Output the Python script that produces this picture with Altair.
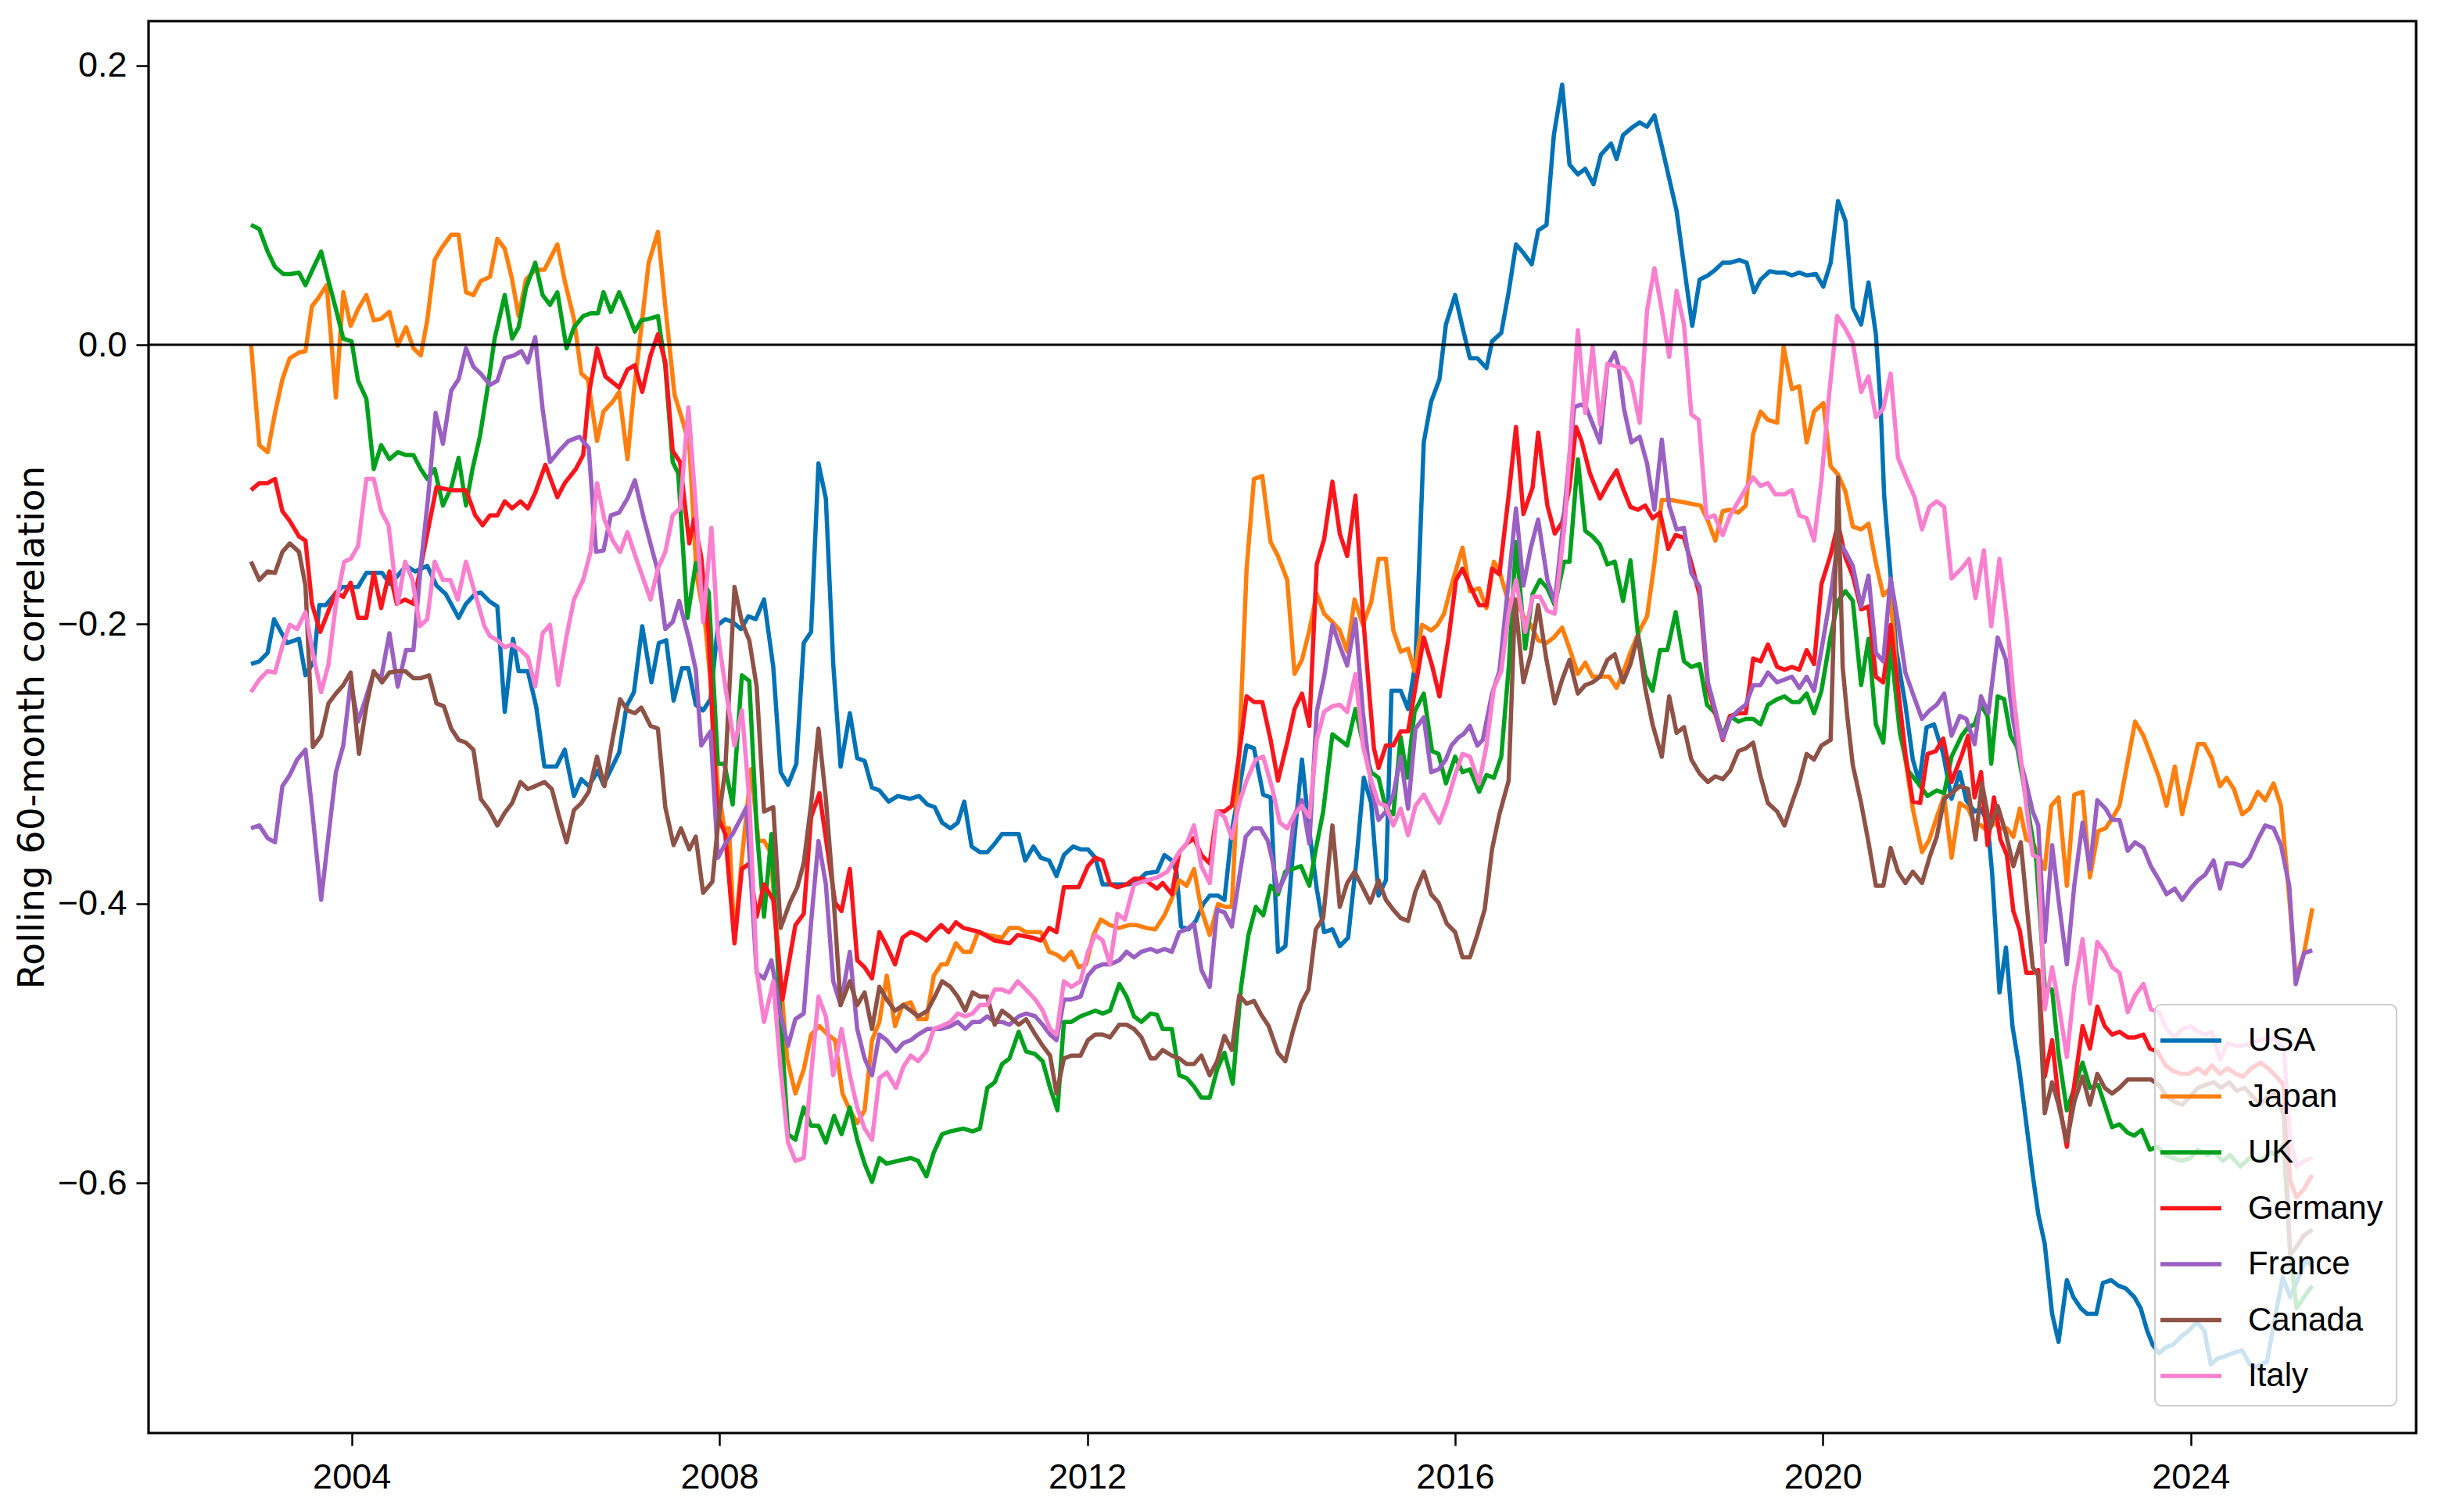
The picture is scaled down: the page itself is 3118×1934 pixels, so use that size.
import altair as alt
import pandas as pd

# ---- values (year, rolling 60-month correlation) ----
USA = [(2002.89,-0.227),(2002.98,-0.225),(2003.07,-0.219),(2003.14,-0.195),(2003.28,-0.212),(2003.41,-0.209),(2003.48,-0.235),(2003.57,-0.225),(2003.63,-0.185),(2003.70,-0.185),(2003.80,-0.177),(2003.88,-0.172),(2004.05,-0.172),(2004.14,-0.162),(2004.31,-0.162),(2004.40,-0.170),(2004.57,-0.157),(2004.67,-0.161),(2004.80,-0.157),(2004.90,-0.171),(2005.00,-0.177),(2005.14,-0.194),(2005.22,-0.184),(2005.32,-0.177),(2005.38,-0.176),(2005.47,-0.182),(2005.56,-0.186),(2005.64,-0.261),(2005.73,-0.209),(2005.79,-0.232),(2005.89,-0.232),(2005.98,-0.257),(2006.07,-0.300),(2006.20,-0.300),(2006.29,-0.288),(2006.39,-0.321),(2006.47,-0.309),(2006.55,-0.314),(2006.65,-0.303),(2006.71,-0.313),(2006.88,-0.290),(2006.96,-0.257),(2007.04,-0.247),(2007.13,-0.200),(2007.23,-0.240),(2007.31,-0.212),(2007.39,-0.210),(2007.47,-0.253),(2007.56,-0.230),(2007.63,-0.230),
       (2007.71,-0.256),(2007.79,-0.260),(2007.87,-0.252),(2007.95,-0.199),(2008.03,-0.195),(2008.11,-0.197),(2008.20,-0.202),(2008.28,-0.193),(2008.36,-0.195),(2008.45,-0.181),(2008.55,-0.229),(2008.63,-0.304),(2008.71,-0.313),(2008.80,-0.298),(2008.88,-0.212),(2008.96,-0.204),(2009.04,-0.084),(2009.12,-0.109),(2009.20,-0.227),(2009.28,-0.300),(2009.38,-0.262),(2009.46,-0.294),(2009.54,-0.296),(2009.62,-0.315),(2009.70,-0.317),(2009.80,-0.325),(2009.90,-0.321),(2010.03,-0.323),(2010.13,-0.321),(2010.22,-0.327),(2010.30,-0.329),(2010.38,-0.340),(2010.47,-0.344),(2010.55,-0.340),(2010.62,-0.325),(2010.70,-0.357),(2010.79,-0.361),(2010.87,-0.361),(2010.95,-0.355),(2011.03,-0.348),(2011.11,-0.348),(2011.21,-0.348),(2011.28,-0.367),(2011.37,-0.357),(2011.45,-0.365),(2011.54,-0.367),(2011.62,-0.378),(2011.70,-0.363),(2011.80,-0.357),(2011.88,-0.359),(2011.96,-0.359),(2012.04,-0.365),(2012.12,-0.384),(2012.20,-0.384),(2012.30,-0.384),(2012.40,-0.384),(2012.49,-0.382),(2012.59,-0.376),
       (2012.71,-0.375),(2012.79,-0.363),(2012.87,-0.367),(2012.92,-0.375),(2012.97,-0.414),(2013.05,-0.416),(2013.13,-0.410),(2013.21,-0.398),(2013.28,-0.392),(2013.37,-0.392),(2013.44,-0.395),(2013.52,-0.346),(2013.60,-0.316),(2013.68,-0.285),(2013.76,-0.287),(2013.86,-0.320),(2013.94,-0.322),(2014.02,-0.432),(2014.10,-0.428),(2014.18,-0.363),(2014.28,-0.295),(2014.36,-0.346),(2014.44,-0.387),(2014.52,-0.418),(2014.61,-0.416),(2014.69,-0.428),(2014.78,-0.422),(2014.87,-0.367),(2014.95,-0.308),(2015.03,-0.326),(2015.11,-0.392),(2015.19,-0.381),(2015.25,-0.246),(2015.35,-0.246),(2015.43,-0.259),(2015.51,-0.226),(2015.60,-0.069),(2015.68,-0.040),(2015.77,-0.024),(2015.84,0.015),(2015.94,0.036),(2016.02,0.013),(2016.10,-0.009),(2016.18,-0.009),(2016.28,-0.016),(2016.34,0.003),(2016.44,0.009),(2016.52,0.038),(2016.60,0.072),(2016.68,0.066),(2016.77,0.058),(2016.84,0.082),(2016.93,0.086),(2017.01,0.150),(2017.10,0.186),(2017.18,0.129),(2017.27,0.122),(2017.35,0.126),(2017.44,0.115),(2017.52,0.136),
       (2017.63,0.144),(2017.69,0.133),(2017.76,0.150),(2017.85,0.155),(2017.94,0.159),(2018.02,0.156),(2018.10,0.164),(2018.18,0.142),(2018.26,0.119),(2018.34,0.096),(2018.42,0.057),(2018.51,0.014),(2018.59,0.047),(2018.68,0.050),(2018.76,0.054),(2018.84,0.059),(2018.92,0.059),(2019.02,0.061),(2019.10,0.059),(2019.18,0.038),(2019.25,0.047),(2019.35,0.053),(2019.43,0.052),(2019.51,0.052),(2019.59,0.050),(2019.67,0.052),(2019.75,0.050),(2019.85,0.051),(2019.93,0.042),(2020.01,0.059),(2020.09,0.103),(2020.17,0.089),(2020.25,0.027),(2020.34,0.015),(2020.42,0.045),(2020.50,0.008),(2020.55,-0.041),(2020.59,-0.107),(2020.66,-0.164),(2020.72,-0.217),(2020.82,-0.256),(2020.90,-0.295),(2020.97,-0.311),(2021.05,-0.272),(2021.13,-0.270),(2021.23,-0.291),(2021.32,-0.323),
       (2021.41,-0.304),(2021.48,-0.324),(2021.57,-0.332),(2021.64,-0.330),(2021.71,-0.340),(2021.76,-0.376),(2021.84,-0.461),(2021.91,-0.429),(2021.98,-0.485),(2022.05,-0.513),(2022.12,-0.549),(2022.20,-0.591),(2022.26,-0.619),(2022.33,-0.640),(2022.41,-0.690),(2022.48,-0.710),(2022.57,-0.666),(2022.64,-0.678),(2022.72,-0.686),(2022.79,-0.690),(2022.89,-0.690),(2022.96,-0.668),(2023.05,-0.666),(2023.13,-0.670),(2023.21,-0.672),(2023.30,-0.678),(2023.37,-0.686),(2023.44,-0.702),(2023.50,-0.712),(2023.57,-0.718),(2023.64,-0.714),(2023.72,-0.712),(2023.81,-0.706),(2023.89,-0.702),(2023.98,-0.696),(2024.06,-0.702),(2024.13,-0.726),(2024.20,-0.722),(2024.29,-0.720),(2024.37,-0.718),(2024.47,-0.716),(2024.55,-0.726),(2024.62,-0.728),(2024.74,-0.724),(2024.81,-0.698),(2024.91,-0.664),(2024.99,-0.678),(2025.07,-0.666),(2025.16,-0.652),(2025.23,-0.656)]

JAPAN = [(2002.89,0.001),(2002.98,-0.071),(2003.07,-0.076),(2003.15,-0.048),(2003.23,-0.024),(2003.31,-0.009),(2003.41,-0.005),(2003.48,-0.004),(2003.55,0.028),(2003.62,0.034),(2003.71,0.043),(2003.81,-0.037),(2003.89,0.038),(2003.97,0.014),(2004.05,0.026),(2004.14,0.036),(2004.22,0.018),(2004.30,0.019),(2004.39,0.024),(2004.48,0.000),(2004.57,0.013),(2004.65,-0.002),(2004.73,-0.007),(2004.80,0.018),(2004.88,0.061),(2004.95,0.069),(2005.06,0.079),(2005.14,0.079),(2005.22,0.038),(2005.30,0.036),(2005.38,0.046),(2005.48,0.049),(2005.56,0.076),(2005.64,0.069),(2005.72,0.047),(2005.79,0.021),(2005.87,0.047),(2005.97,0.054),(2006.07,0.054),(2006.21,0.072),(2006.29,0.046),(2006.39,0.019),(2006.47,-0.020),(2006.54,-0.024),(2006.64,-0.068),(2006.71,-0.047),(2006.81,-0.040),(2006.88,-0.033),(2006.97,-0.081),(2007.04,-0.032),(2007.12,0.013),(2007.20,0.059),(2007.30,0.081),(2007.38,0.028),(2007.48,-0.035),(2007.56,-0.052),(2007.64,-0.071),
         (2007.72,-0.164),(2007.81,-0.197),(2007.87,-0.239),(2007.95,-0.315),(2008.02,-0.344),(2008.07,-0.344),(2008.13,-0.424),(2008.21,-0.365),(2008.31,-0.302),(2008.39,-0.353),(2008.45,-0.353),(2008.52,-0.361),(2008.60,-0.428),(2008.70,-0.508),(2008.79,-0.533),(2008.88,-0.516),(2008.96,-0.491),(2009.05,-0.485),(2009.14,-0.491),(2009.22,-0.495),(2009.30,-0.533),(2009.38,-0.545),(2009.46,-0.554),(2009.54,-0.545),(2009.62,-0.495),(2009.70,-0.482),(2009.78,-0.449),(2009.87,-0.485),(2009.95,-0.470),(2010.04,-0.468),(2010.12,-0.480),(2010.21,-0.480),(2010.29,-0.449),(2010.37,-0.441),(2010.43,-0.441),(2010.53,-0.426),(2010.61,-0.432),(2010.69,-0.432),(2010.77,-0.418),(2010.87,-0.420),(2011.03,-0.422),(2011.11,-0.415),(2011.21,-0.415),(2011.29,-0.418),(2011.45,-0.418),(2011.54,-0.432),(2011.62,-0.434),(2011.70,-0.438),(2011.78,-0.432),(2011.86,-0.443),(2011.94,-0.441),(2012.02,-0.420),(2012.10,-0.409),(2012.20,-0.413),(2012.30,-0.415),(2012.40,-0.413),(2012.49,-0.413),(2012.59,-0.415),
         (2012.69,-0.416),(2012.79,-0.406),(2012.87,-0.394),(2012.95,-0.381),(2013.03,-0.385),(2013.11,-0.373),(2013.19,-0.402),(2013.28,-0.420),(2013.37,-0.398),(2013.45,-0.400),(2013.52,-0.400),(2013.60,-0.289),(2013.68,-0.159),(2013.76,-0.095),(2013.85,-0.093),(2013.94,-0.140),(2014.02,-0.150),(2014.12,-0.167),(2014.20,-0.234),(2014.28,-0.224),(2014.36,-0.203),(2014.44,-0.177),(2014.52,-0.191),(2014.61,-0.197),(2014.69,-0.203),(2014.77,-0.218),(2014.85,-0.181),(2014.94,-0.199),(2015.03,-0.183),(2015.11,-0.152),(2015.19,-0.152),(2015.27,-0.203),(2015.35,-0.218),(2015.43,-0.216),(2015.50,-0.232),(2015.58,-0.199),(2015.68,-0.203),(2015.75,-0.199),(2015.82,-0.191),(2015.90,-0.171),(2016.02,-0.144),(2016.10,-0.175),(2016.20,-0.173),(2016.28,-0.187),(2016.36,-0.154),(2016.42,-0.161),(2016.52,-0.183),(2016.60,-0.181),(2016.68,-0.193),(2016.76,-0.199),(2016.84,-0.210),(2016.93,-0.212),(2017.01,-0.208),(2017.10,-0.201),(2017.18,-0.216),(2017.27,-0.234),(2017.35,-0.226),(2017.43,-0.236),(2017.51,-0.236),(2017.61,-0.236),
         (2017.69,-0.244),(2017.76,-0.233),(2017.85,-0.217),(2017.94,-0.203),(2018.02,-0.193),(2018.10,-0.155),(2018.18,-0.110),(2018.28,-0.110),(2018.36,-0.111),(2018.44,-0.112),(2018.52,-0.113),(2018.60,-0.114),(2018.68,-0.125),(2018.76,-0.139),(2018.84,-0.118),(2018.92,-0.117),(2019.01,-0.119),(2019.09,-0.114),(2019.17,-0.063),(2019.25,-0.047),(2019.33,-0.053),(2019.43,-0.055),(2019.50,-0.001),(2019.59,-0.031),(2019.67,-0.029),(2019.75,-0.069),(2019.83,-0.047),(2019.93,-0.041),(2020.01,-0.086),(2020.09,-0.092),(2020.17,-0.104),(2020.25,-0.129),(2020.34,-0.131),(2020.42,-0.127),(2020.50,-0.155),(2020.58,-0.178),(2020.64,-0.174),(2020.69,-0.201),(2020.76,-0.268),(2020.82,-0.295),(2020.90,-0.330),(2021.00,-0.361),(2021.08,-0.352),(2021.16,-0.336),(2021.24,-0.321),(2021.32,-0.365),
         (2021.41,-0.326),(2021.50,-0.330),(2021.57,-0.340),(2021.64,-0.342),(2021.71,-0.346),(2021.78,-0.340),(2021.85,-0.344),(2021.92,-0.344),(2021.99,-0.350),(2022.06,-0.330),(2022.13,-0.352),(2022.20,-0.354),(2022.26,-0.363),(2022.33,-0.373),(2022.40,-0.328),(2022.48,-0.322),(2022.57,-0.385),(2022.65,-0.320),(2022.74,-0.318),(2022.82,-0.379),(2022.91,-0.346),(2022.99,-0.344),(2023.07,-0.336),(2023.14,-0.328),(2023.23,-0.296),(2023.31,-0.268),(2023.40,-0.278),(2023.48,-0.292),(2023.57,-0.308),(2023.65,-0.328),(2023.74,-0.300),(2023.82,-0.334),(2023.91,-0.308),(2023.99,-0.284),(2024.06,-0.284),(2024.14,-0.294),(2024.23,-0.314),(2024.30,-0.308),(2024.38,-0.316),(2024.47,-0.334),(2024.55,-0.330),(2024.64,-0.318),(2024.72,-0.324),(2024.81,-0.312),(2024.89,-0.328),(2024.98,-0.393),(2025.05,-0.451),(2025.14,-0.433),(2025.23,-0.401)]

UK = [(2002.89,0.086),(2002.98,0.083),(2003.07,0.067),(2003.15,0.056),(2003.24,0.051),(2003.32,0.051),(2003.41,0.052),(2003.48,0.043),(2003.57,0.056),(2003.65,0.067),(2003.73,0.046),(2003.81,0.026),(2003.89,0.005),(2003.98,0.003),(2004.05,-0.025),(2004.14,-0.038),(2004.22,-0.088),(2004.30,-0.071),(2004.39,-0.081),(2004.48,-0.076),(2004.57,-0.078),(2004.65,-0.078),(2004.73,-0.088),(2004.80,-0.095),(2004.88,-0.088),(2004.97,-0.114),(2005.06,-0.101),(2005.14,-0.080),(2005.22,-0.114),(2005.29,-0.088),(2005.37,-0.065),(2005.45,-0.032),(2005.53,0.005),(2005.64,0.036),(2005.72,0.005),(2005.79,0.013),(2005.87,0.041),(2005.97,0.059),(2006.05,0.036),(2006.13,0.029),(2006.21,0.038),(2006.31,-0.002),(2006.39,0.013),(2006.49,0.021),(2006.57,0.023),(2006.65,0.023),(2006.71,0.038),(2006.79,0.024),(2006.88,0.038),(2006.97,0.024),(2007.05,0.010),(2007.12,0.018),(2007.20,0.019),(2007.30,0.021),(2007.38,-0.015),(2007.46,-0.083),(2007.52,-0.091),(2007.62,-0.194),
      (2007.71,-0.155),(2007.85,-0.176),(2007.95,-0.298),(2008.02,-0.298),(2008.11,-0.327),(2008.21,-0.235),(2008.29,-0.239),(2008.37,-0.344),(2008.45,-0.407),(2008.53,-0.348),(2008.62,-0.470),(2008.71,-0.562),(2008.79,-0.566),(2008.88,-0.543),(2008.96,-0.556),(2009.04,-0.556),(2009.12,-0.568),(2009.21,-0.549),(2009.29,-0.562),(2009.38,-0.543),(2009.46,-0.566),(2009.54,-0.583),(2009.62,-0.596),(2009.70,-0.579),(2009.78,-0.583),(2009.90,-0.581),(2010.04,-0.579),(2010.12,-0.581),(2010.21,-0.592),(2010.29,-0.575),(2010.38,-0.562),(2010.47,-0.560),(2010.61,-0.558),(2010.71,-0.560),(2010.79,-0.558),(2010.87,-0.529),(2010.95,-0.525),(2011.03,-0.512),(2011.11,-0.508),(2011.21,-0.489),(2011.29,-0.503),(2011.39,-0.505),(2011.47,-0.510),(2011.55,-0.529),(2011.63,-0.545),(2011.70,-0.482),(2011.78,-0.482),(2011.88,-0.478),(2012.04,-0.474),(2012.12,-0.476),(2012.20,-0.474),(2012.30,-0.455),(2012.38,-0.464),(2012.46,-0.478),(2012.54,-0.482),(2012.64,-0.476),
      (2012.71,-0.477),(2012.77,-0.487),(2012.87,-0.487),(2012.95,-0.520),(2013.03,-0.522),(2013.11,-0.528),(2013.19,-0.536),(2013.28,-0.536),(2013.36,-0.516),(2013.44,-0.504),(2013.53,-0.526),(2013.62,-0.457),(2013.70,-0.420),(2013.78,-0.400),(2013.86,-0.406),(2013.94,-0.385),(2014.02,-0.391),(2014.10,-0.375),(2014.18,-0.373),(2014.27,-0.371),(2014.36,-0.385),(2014.43,-0.359),(2014.51,-0.332),(2014.61,-0.277),(2014.69,-0.281),(2014.77,-0.285),(2014.86,-0.259),(2014.94,-0.283),(2015.03,-0.304),(2015.11,-0.308),(2015.19,-0.330),(2015.27,-0.334),(2015.35,-0.279),(2015.42,-0.308),(2015.50,-0.261),(2015.60,-0.248),(2015.69,-0.289),(2015.76,-0.291),(2015.84,-0.312),(2015.94,-0.293),(2016.02,-0.304),(2016.10,-0.302),(2016.20,-0.318),(2016.28,-0.306),(2016.36,-0.308),(2016.44,-0.293),(2016.52,-0.230),(2016.60,-0.140),(2016.70,-0.216),(2016.78,-0.177),(2016.86,-0.167),(2016.94,-0.173),(2017.02,-0.185),(2017.12,-0.154),(2017.18,-0.154),(2017.27,-0.081),(2017.35,-0.132),(2017.43,-0.136),(2017.51,-0.142),(2017.59,-0.156),(2017.67,-0.154),
      (2017.76,-0.182),(2017.84,-0.153),(2017.92,-0.205),(2018.00,-0.235),(2018.08,-0.246),(2018.16,-0.217),(2018.24,-0.217),(2018.33,-0.190),(2018.42,-0.225),(2018.50,-0.229),(2018.59,-0.227),(2018.67,-0.256),(2018.76,-0.262),(2018.84,-0.278),(2018.92,-0.264),(2019.01,-0.268),(2019.09,-0.266),(2019.17,-0.266),(2019.25,-0.270),(2019.33,-0.256),(2019.43,-0.252),(2019.51,-0.250),(2019.59,-0.254),(2019.67,-0.254),(2019.75,-0.248),(2019.83,-0.262),(2019.91,-0.246),(2020.01,-0.207),(2020.09,-0.182),(2020.17,-0.175),(2020.25,-0.182),(2020.34,-0.242),(2020.42,-0.209),(2020.50,-0.270),(2020.58,-0.283),(2020.66,-0.213),(2020.76,-0.276),(2020.85,-0.303),(2020.97,-0.313),(2021.06,-0.321),(2021.16,-0.317),(2021.24,-0.319),(2021.32,-0.293),
      (2021.43,-0.278),(2021.50,-0.272),(2021.57,-0.270),(2021.64,-0.256),(2021.71,-0.264),(2021.75,-0.298),(2021.82,-0.250),(2021.89,-0.252),(2021.96,-0.278),(2022.03,-0.286),(2022.10,-0.312),(2022.17,-0.340),(2022.24,-0.368),(2022.33,-0.457),(2022.41,-0.459),(2022.48,-0.505),(2022.57,-0.545),(2022.65,-0.529),(2022.74,-0.511),(2022.82,-0.529),(2022.91,-0.527),(2022.98,-0.541),(2023.06,-0.557),(2023.14,-0.555),(2023.23,-0.561),(2023.30,-0.563),(2023.38,-0.559),(2023.47,-0.573),(2023.55,-0.571),(2023.64,-0.577),(2023.72,-0.579),(2023.81,-0.581),(2023.91,-0.579),(2023.99,-0.573),(2024.09,-0.577),(2024.17,-0.575),(2024.26,-0.581),(2024.34,-0.577),(2024.45,-0.585),(2024.55,-0.579),(2024.67,-0.581),(2024.78,-0.575),(2024.85,-0.577),(2024.92,-0.569),(2024.99,-0.646),(2025.06,-0.686),(2025.14,-0.678),(2025.23,-0.670)]

GERMANY = [(2002.89,-0.103),(2002.98,-0.098),(2003.07,-0.098),(2003.15,-0.095),(2003.23,-0.118),(2003.31,-0.125),(2003.41,-0.136),(2003.48,-0.139),(2003.55,-0.184),(2003.64,-0.204),(2003.73,-0.189),(2003.81,-0.176),(2003.89,-0.179),(2003.97,-0.169),(2004.05,-0.194),(2004.14,-0.194),(2004.22,-0.162),(2004.30,-0.187),(2004.39,-0.161),(2004.47,-0.184),(2004.56,-0.181),(2004.65,-0.184),(2004.77,-0.144),(2004.90,-0.101),(2005.06,-0.103),(2005.22,-0.103),(2005.32,-0.121),(2005.40,-0.128),(2005.48,-0.121),(2005.56,-0.121),(2005.64,-0.111),(2005.72,-0.116),(2005.81,-0.111),(2005.89,-0.116),(2005.97,-0.105),(2006.08,-0.085),(2006.21,-0.108),(2006.29,-0.098),(2006.41,-0.088),(2006.49,-0.078),(2006.55,-0.035),(2006.64,-0.002),(2006.73,-0.022),(2006.88,-0.030),(2006.97,-0.017),(2007.05,-0.014),(2007.13,-0.033),(2007.22,-0.007),(2007.30,0.008),(2007.38,-0.012),(2007.46,-0.075),(2007.54,-0.083),(2007.64,-0.141),
           (2007.69,-0.124),(2007.77,-0.151),(2007.85,-0.206),(2007.90,-0.281),(2007.95,-0.336),(2008.03,-0.348),(2008.13,-0.426),(2008.21,-0.373),(2008.29,-0.369),(2008.37,-0.407),(2008.45,-0.384),(2008.55,-0.395),(2008.65,-0.466),(2008.79,-0.413),(2008.88,-0.405),(2008.96,-0.336),(2009.05,-0.319),(2009.22,-0.397),(2009.29,-0.403),(2009.38,-0.373),(2009.46,-0.438),(2009.54,-0.443),(2009.62,-0.451),(2009.70,-0.418),(2009.78,-0.428),(2009.87,-0.441),(2009.95,-0.422),(2010.04,-0.418),(2010.12,-0.420),(2010.21,-0.424),(2010.29,-0.418),(2010.37,-0.413),(2010.45,-0.418),(2010.53,-0.411),(2010.61,-0.415),(2010.79,-0.418),(2010.95,-0.424),(2011.11,-0.426),(2011.20,-0.420),(2011.36,-0.422),(2011.45,-0.424),(2011.54,-0.415),(2011.62,-0.418),(2011.70,-0.386),(2011.78,-0.386),(2011.86,-0.386),(2011.96,-0.371),(2012.04,-0.365),(2012.12,-0.367),(2012.20,-0.384),(2012.28,-0.386),(2012.38,-0.384),(2012.46,-0.380),(2012.56,-0.380),
           (2012.71,-0.387),(2012.77,-0.383),(2012.87,-0.391),(2012.95,-0.361),(2013.03,-0.355),(2013.11,-0.351),(2013.19,-0.363),(2013.28,-0.369),(2013.36,-0.332),(2013.44,-0.332),(2013.52,-0.328),(2013.60,-0.291),(2013.68,-0.250),(2013.76,-0.254),(2013.85,-0.254),(2013.94,-0.281),(2014.02,-0.310),(2014.12,-0.283),(2014.20,-0.259),(2014.28,-0.248),(2014.36,-0.271),(2014.44,-0.156),(2014.52,-0.138),(2014.61,-0.097),(2014.69,-0.134),(2014.77,-0.150),(2014.86,-0.107),(2014.94,-0.191),(2015.01,-0.248),(2015.06,-0.287),(2015.11,-0.301),(2015.19,-0.285),(2015.27,-0.285),(2015.35,-0.275),(2015.43,-0.275),(2015.60,-0.208),(2015.69,-0.228),(2015.77,-0.250),(2015.87,-0.208),(2015.95,-0.167),(2016.02,-0.159),(2016.10,-0.171),(2016.20,-0.185),(2016.28,-0.185),(2016.34,-0.159),(2016.42,-0.163),(2016.52,-0.107),(2016.60,-0.058),(2016.68,-0.120),(2016.78,-0.101),(2016.84,-0.062),(2016.94,-0.114),(2017.02,-0.134),(2017.10,-0.126),(2017.18,-0.101),(2017.25,-0.058),(2017.31,-0.068),(2017.40,-0.091),(2017.51,-0.109),(2017.61,-0.097),(2017.69,-0.089),
           (2017.76,-0.102),(2017.84,-0.115),(2017.92,-0.117),(2018.00,-0.114),(2018.08,-0.123),(2018.16,-0.119),(2018.25,-0.145),(2018.33,-0.135),(2018.42,-0.137),(2018.50,-0.155),(2018.59,-0.178),(2018.68,-0.244),(2018.76,-0.262),(2018.84,-0.281),(2018.92,-0.264),(2019.01,-0.262),(2019.09,-0.262),(2019.17,-0.223),(2019.25,-0.225),(2019.33,-0.213),(2019.43,-0.229),(2019.51,-0.231),(2019.59,-0.229),(2019.67,-0.231),(2019.75,-0.217),(2019.83,-0.227),(2019.91,-0.170),(2020.01,-0.149),(2020.09,-0.127),(2020.17,-0.151),(2020.25,-0.164),(2020.34,-0.188),(2020.42,-0.186),(2020.50,-0.236),(2020.58,-0.240),(2020.66,-0.199),(2020.74,-0.244),(2020.82,-0.291),(2020.90,-0.325),(2020.98,-0.326),(2021.06,-0.291),(2021.15,-0.289),(2021.23,-0.280),(2021.32,-0.311),
           (2021.43,-0.292),(2021.50,-0.278),(2021.57,-0.322),(2021.64,-0.304),(2021.71,-0.356),(2021.78,-0.322),(2021.85,-0.352),(2021.92,-0.363),(2021.99,-0.403),(2022.06,-0.417),(2022.13,-0.447),(2022.20,-0.447),(2022.26,-0.445),(2022.33,-0.521),(2022.41,-0.495),(2022.48,-0.537),(2022.57,-0.571),(2022.65,-0.527),(2022.74,-0.485),(2022.82,-0.501),(2022.90,-0.471),(2022.98,-0.485),(2023.06,-0.491),(2023.14,-0.489),(2023.23,-0.493),(2023.31,-0.493),(2023.40,-0.491),(2023.47,-0.501),(2023.55,-0.503),(2023.64,-0.513),(2023.72,-0.517),(2023.81,-0.519),(2023.89,-0.519),(2023.99,-0.515),(2024.07,-0.519),(2024.14,-0.513),(2024.23,-0.519),(2024.31,-0.515),(2024.40,-0.519),(2024.48,-0.521),(2024.57,-0.515),(2024.67,-0.511),(2024.75,-0.515),(2024.84,-0.521),(2024.92,-0.527),(2024.99,-0.595),(2025.06,-0.607),(2025.14,-0.601),(2025.23,-0.591)]

FRANCE = [(2002.89,-0.344),(2002.98,-0.342),(2003.07,-0.351),(2003.15,-0.354),(2003.23,-0.314),(2003.31,-0.306),(2003.39,-0.295),(2003.48,-0.288),(2003.55,-0.329),(2003.65,-0.395),(2003.73,-0.349),(2003.81,-0.304),(2003.89,-0.285),(2003.97,-0.240),(2004.05,-0.268),(2004.14,-0.250),(2004.22,-0.233),(2004.30,-0.237),(2004.39,-0.205),(2004.48,-0.243),(2004.57,-0.217),(2004.65,-0.217),(2004.73,-0.157),(2004.81,-0.108),(2004.89,-0.048),(2004.97,-0.070),(2005.06,-0.032),(2005.14,-0.024),(2005.22,-0.002),(2005.30,-0.015),(2005.38,-0.020),(2005.48,-0.028),(2005.56,-0.025),(2005.64,-0.009),(2005.74,-0.007),(2005.82,-0.004),(2005.89,-0.012),(2005.97,0.006),(2006.05,-0.045),(2006.13,-0.083),(2006.23,-0.075),(2006.33,-0.068),(2006.45,-0.065),(2006.55,-0.073),(2006.63,-0.147),(2006.71,-0.146),(2006.79,-0.121),(2006.88,-0.119),(2006.97,-0.109),(2007.05,-0.096),(2007.15,-0.124),(2007.30,-0.161),(2007.38,-0.202),(2007.46,-0.197),(2007.53,-0.182),(2007.64,-0.210),
          (2007.71,-0.231),(2007.77,-0.285),(2007.87,-0.275),(2007.95,-0.365),(2008.03,-0.355),(2008.11,-0.348),(2008.19,-0.338),(2008.26,-0.329),(2008.37,-0.447),(2008.45,-0.451),(2008.53,-0.438),(2008.62,-0.474),(2008.71,-0.499),(2008.79,-0.480),(2008.88,-0.476),(2008.96,-0.411),(2009.04,-0.353),(2009.12,-0.384),(2009.20,-0.453),(2009.28,-0.470),(2009.38,-0.432),(2009.46,-0.487),(2009.54,-0.508),(2009.62,-0.520),(2009.70,-0.491),(2009.78,-0.495),(2009.88,-0.503),(2009.96,-0.497),(2010.04,-0.495),(2010.12,-0.491),(2010.22,-0.487),(2010.37,-0.487),(2010.47,-0.485),(2010.55,-0.482),(2010.63,-0.487),(2010.71,-0.482),(2010.79,-0.482),(2010.87,-0.478),(2010.95,-0.482),(2011.03,-0.482),(2011.11,-0.484),(2011.21,-0.478),(2011.29,-0.476),(2011.39,-0.478),(2011.47,-0.484),(2011.55,-0.491),(2011.62,-0.495),(2011.70,-0.466),(2011.78,-0.466),(2011.88,-0.464),(2011.96,-0.449),(2012.04,-0.443),(2012.12,-0.441),(2012.20,-0.441),(2012.30,-0.438),(2012.38,-0.432),(2012.46,-0.436),(2012.54,-0.432),(2012.64,-0.430),
          (2012.71,-0.432),(2012.79,-0.430),(2012.87,-0.432),(2012.95,-0.418),(2013.03,-0.416),(2013.11,-0.412),(2013.19,-0.445),(2013.28,-0.457),(2013.36,-0.402),(2013.44,-0.404),(2013.52,-0.414),(2013.60,-0.379),(2013.67,-0.350),(2013.75,-0.344),(2013.83,-0.344),(2013.91,-0.353),(2013.96,-0.367),(2014.02,-0.389),(2014.12,-0.375),(2014.20,-0.334),(2014.28,-0.324),(2014.36,-0.355),(2014.44,-0.261),(2014.52,-0.236),(2014.61,-0.199),(2014.69,-0.214),(2014.77,-0.228),(2014.86,-0.195),(2014.94,-0.261),(2015.03,-0.314),(2015.11,-0.338),(2015.19,-0.332),(2015.27,-0.320),(2015.35,-0.293),(2015.43,-0.330),(2015.51,-0.273),(2015.60,-0.265),(2015.68,-0.304),(2015.76,-0.302),(2015.84,-0.295),(2015.90,-0.285),(2015.98,-0.279),(2016.03,-0.277),(2016.10,-0.271),(2016.18,-0.285),(2016.24,-0.281),(2016.34,-0.248),(2016.42,-0.232),(2016.60,-0.116),(2016.68,-0.171),(2016.76,-0.144),(2016.84,-0.124),(2016.94,-0.167),(2017.02,-0.183),(2017.10,-0.134),(2017.23,-0.044),(2017.30,-0.042),(2017.36,-0.044),(2017.51,-0.069),(2017.59,-0.015),(2017.67,-0.005),
          (2017.71,-0.014),(2017.77,-0.045),(2017.85,-0.069),(2017.94,-0.065),(2018.02,-0.084),(2018.10,-0.117),(2018.18,-0.067),(2018.26,-0.114),(2018.34,-0.131),(2018.42,-0.130),(2018.50,-0.162),(2018.59,-0.172),(2018.68,-0.240),(2018.76,-0.260),(2018.84,-0.280),(2018.92,-0.266),(2019.01,-0.260),(2019.09,-0.256),(2019.17,-0.242),(2019.25,-0.242),(2019.33,-0.233),(2019.43,-0.240),(2019.51,-0.238),(2019.59,-0.236),(2019.67,-0.244),(2019.75,-0.236),(2019.83,-0.246),(2019.91,-0.217),(2020.01,-0.178),(2020.09,-0.139),(2020.17,-0.147),(2020.25,-0.157),(2020.34,-0.186),(2020.42,-0.164),(2020.50,-0.219),(2020.58,-0.225),(2020.66,-0.166),(2020.74,-0.197),(2020.82,-0.233),(2020.90,-0.248),(2021.00,-0.266),(2021.08,-0.260),(2021.16,-0.256),(2021.24,-0.248),(2021.32,-0.278),
          (2021.41,-0.264),(2021.48,-0.266),(2021.57,-0.284),(2021.64,-0.250),(2021.72,-0.262),(2021.82,-0.208),(2021.91,-0.224),(2021.98,-0.264),(2022.06,-0.294),(2022.13,-0.312),(2022.20,-0.332),(2022.26,-0.342),(2022.33,-0.425),(2022.41,-0.356),(2022.48,-0.395),(2022.57,-0.441),(2022.65,-0.385),(2022.74,-0.340),(2022.82,-0.373),(2022.90,-0.324),(2022.99,-0.330),(2023.06,-0.338),(2023.14,-0.338),(2023.23,-0.360),(2023.31,-0.354),(2023.40,-0.358),(2023.48,-0.371),(2023.57,-0.381),(2023.65,-0.391),(2023.74,-0.387),(2023.82,-0.395),(2023.91,-0.387),(2023.99,-0.381),(2024.07,-0.377),(2024.16,-0.367),(2024.23,-0.387),(2024.30,-0.369),(2024.38,-0.369),(2024.47,-0.371),(2024.55,-0.365),(2024.64,-0.352),(2024.72,-0.342),(2024.81,-0.344),(2024.89,-0.356),(2024.98,-0.385),(2025.05,-0.455),(2025.14,-0.433),(2025.23,-0.431)]

CANADA = [(2002.89,-0.154),(2002.98,-0.167),(2003.07,-0.161),(2003.15,-0.162),(2003.23,-0.147),(2003.31,-0.141),(2003.41,-0.147),(2003.48,-0.171),(2003.56,-0.286),(2003.65,-0.278),(2003.73,-0.255),(2003.81,-0.248),(2003.89,-0.242),(2003.97,-0.233),(2004.06,-0.291),(2004.14,-0.257),(2004.22,-0.232),(2004.31,-0.240),(2004.39,-0.233),(2004.48,-0.232),(2004.56,-0.232),(2004.65,-0.237),(2004.73,-0.237),(2004.82,-0.235),(2004.90,-0.255),(2004.98,-0.257),(2005.06,-0.273),(2005.14,-0.281),(2005.22,-0.283),(2005.30,-0.288),(2005.38,-0.323),(2005.47,-0.331),(2005.56,-0.342),(2005.64,-0.333),(2005.72,-0.326),(2005.81,-0.311),(2005.89,-0.316),(2005.97,-0.314),(2006.07,-0.311),(2006.15,-0.316),(2006.23,-0.336),(2006.31,-0.354),(2006.39,-0.331),(2006.47,-0.326),(2006.55,-0.318),(2006.64,-0.293),(2006.72,-0.314),(2006.81,-0.280),(2006.89,-0.252),(2006.97,-0.260),(2007.05,-0.262),(2007.12,-0.258),(2007.22,-0.271),(2007.30,-0.273),(2007.38,-0.329),(2007.47,-0.356),(2007.55,-0.344),(2007.64,-0.359),
          (2007.71,-0.350),(2007.79,-0.390),(2007.89,-0.382),(2007.95,-0.342),(2008.03,-0.302),(2008.13,-0.172),(2008.21,-0.197),(2008.29,-0.210),(2008.37,-0.243),(2008.45,-0.332),(2008.55,-0.329),(2008.63,-0.415),(2008.73,-0.397),(2008.81,-0.386),(2008.88,-0.369),(2008.96,-0.327),(2009.04,-0.273),(2009.12,-0.323),(2009.20,-0.390),(2009.28,-0.470),(2009.38,-0.453),(2009.46,-0.470),(2009.54,-0.461),(2009.62,-0.487),(2009.70,-0.457),(2009.78,-0.466),(2009.87,-0.474),(2009.96,-0.470),(2010.04,-0.474),(2010.12,-0.478),(2010.22,-0.474),(2010.30,-0.464),(2010.38,-0.453),(2010.47,-0.457),(2010.55,-0.464),(2010.63,-0.474),(2010.71,-0.461),(2010.79,-0.464),(2010.87,-0.464),(2010.95,-0.484),(2011.03,-0.474),(2011.11,-0.478),(2011.21,-0.484),(2011.29,-0.480),(2011.39,-0.491),(2011.47,-0.499),(2011.55,-0.506),(2011.62,-0.533),(2011.70,-0.508),(2011.78,-0.506),(2011.88,-0.506),(2011.96,-0.495),(2012.04,-0.491),(2012.12,-0.491),(2012.20,-0.493),(2012.30,-0.484),(2012.38,-0.484),(2012.46,-0.487),(2012.54,-0.493),(2012.64,-0.508),
          (2012.69,-0.508),(2012.77,-0.502),(2012.87,-0.506),(2012.95,-0.508),(2013.03,-0.512),(2013.11,-0.512),(2013.19,-0.506),(2013.28,-0.520),(2013.36,-0.510),(2013.44,-0.492),(2013.52,-0.502),(2013.60,-0.463),(2013.68,-0.469),(2013.76,-0.467),(2013.84,-0.477),(2013.92,-0.485),(2014.02,-0.504),(2014.10,-0.510),(2014.18,-0.489),(2014.27,-0.469),(2014.35,-0.459),(2014.43,-0.416),(2014.51,-0.408),(2014.61,-0.342),(2014.69,-0.400),(2014.77,-0.383),(2014.85,-0.375),(2014.93,-0.385),(2015.02,-0.397),(2015.11,-0.381),(2015.19,-0.395),(2015.27,-0.402),(2015.35,-0.408),(2015.43,-0.410),(2015.51,-0.389),(2015.60,-0.375),(2015.68,-0.391),(2015.76,-0.397),(2015.85,-0.412),(2015.94,-0.418),(2016.02,-0.436),(2016.10,-0.436),(2016.18,-0.420),(2016.26,-0.402),(2016.34,-0.359),(2016.42,-0.334),(2016.52,-0.310),(2016.59,-0.181),(2016.68,-0.240),(2016.76,-0.220),(2016.84,-0.185),(2016.93,-0.224),(2017.02,-0.255),(2017.10,-0.238),(2017.18,-0.224),(2017.27,-0.248),(2017.35,-0.242),(2017.43,-0.240),(2017.51,-0.236),(2017.59,-0.224),(2017.67,-0.220),
          (2017.76,-0.240),(2017.84,-0.227),(2017.92,-0.207),(2018.00,-0.244),(2018.08,-0.270),(2018.18,-0.293),(2018.26,-0.250),(2018.34,-0.276),(2018.42,-0.272),(2018.50,-0.295),(2018.59,-0.305),(2018.68,-0.311),(2018.76,-0.307),(2018.84,-0.309),(2018.92,-0.303),(2019.01,-0.289),(2019.09,-0.287),(2019.17,-0.283),(2019.25,-0.307),(2019.33,-0.326),(2019.43,-0.332),(2019.51,-0.342),(2019.59,-0.326),(2019.67,-0.311),(2019.75,-0.291),(2019.83,-0.295),(2019.91,-0.285),(2020.01,-0.281),(2020.09,-0.094),(2020.14,-0.229),(2020.19,-0.264),(2020.25,-0.299),(2020.34,-0.326),(2020.42,-0.354),(2020.50,-0.385),(2020.58,-0.385),(2020.66,-0.358),(2020.74,-0.375),(2020.82,-0.383),(2020.90,-0.375),(2021.00,-0.383),(2021.08,-0.365),(2021.16,-0.350),(2021.24,-0.323),(2021.32,-0.319),
          (2021.41,-0.314),(2021.50,-0.316),(2021.58,-0.352),(2021.65,-0.312),(2021.74,-0.344),(2021.82,-0.328),(2021.91,-0.348),(2021.99,-0.371),(2022.07,-0.354),(2022.13,-0.395),(2022.20,-0.443),(2022.26,-0.449),(2022.33,-0.547),(2022.41,-0.525),(2022.48,-0.541),(2022.57,-0.567),(2022.65,-0.539),(2022.74,-0.521),(2022.82,-0.541),(2022.90,-0.519),(2022.98,-0.529),(2023.06,-0.533),(2023.14,-0.529),(2023.23,-0.523),(2023.31,-0.523),(2023.40,-0.523),(2023.48,-0.523),(2023.57,-0.527),(2023.65,-0.535),(2023.74,-0.539),(2023.82,-0.541),(2023.91,-0.535),(2023.99,-0.529),(2024.07,-0.527),(2024.16,-0.525),(2024.24,-0.529),(2024.33,-0.525),(2024.41,-0.531),(2024.50,-0.529),(2024.58,-0.535),(2024.67,-0.541),(2024.75,-0.535),(2024.84,-0.533),(2024.92,-0.549),(2024.99,-0.648),(2025.06,-0.642),(2025.14,-0.634),(2025.23,-0.630)]

ITALY = [(2002.89,-0.247),(2002.98,-0.238),(2003.07,-0.232),(2003.15,-0.233),(2003.23,-0.214),(2003.31,-0.199),(2003.39,-0.202),(2003.48,-0.190),(2003.56,-0.219),(2003.65,-0.247),(2003.73,-0.227),(2003.81,-0.184),(2003.90,-0.154),(2003.97,-0.152),(2004.05,-0.143),(2004.14,-0.095),(2004.22,-0.095),(2004.30,-0.118),(2004.38,-0.128),(2004.48,-0.184),(2004.56,-0.154),(2004.64,-0.167),(2004.72,-0.200),(2004.80,-0.195),(2004.88,-0.154),(2004.97,-0.167),(2005.05,-0.167),(2005.13,-0.181),(2005.22,-0.154),(2005.32,-0.177),(2005.42,-0.200),(2005.48,-0.207),(2005.56,-0.210),(2005.64,-0.215),(2005.72,-0.213),(2005.81,-0.217),(2005.89,-0.222),(2005.97,-0.243),(2006.05,-0.205),(2006.13,-0.199),(2006.22,-0.242),(2006.31,-0.207),(2006.39,-0.181),(2006.49,-0.167),(2006.57,-0.147),(2006.64,-0.098),(2006.72,-0.124),(2006.81,-0.139),(2006.89,-0.147),(2006.97,-0.133),(2007.05,-0.149),(2007.22,-0.181),(2007.30,-0.159),(2007.38,-0.147),(2007.46,-0.121),(2007.54,-0.116),(2007.63,-0.044),
         (2007.71,-0.114),(2007.79,-0.197),(2007.88,-0.130),(2007.95,-0.206),(2008.03,-0.243),(2008.13,-0.285),(2008.21,-0.260),(2008.29,-0.323),(2008.37,-0.445),(2008.45,-0.482),(2008.55,-0.453),(2008.63,-0.516),(2008.71,-0.568),(2008.79,-0.581),(2008.88,-0.579),(2008.96,-0.520),(2009.04,-0.464),(2009.12,-0.478),(2009.20,-0.520),(2009.29,-0.487),(2009.38,-0.520),(2009.46,-0.543),(2009.54,-0.558),(2009.62,-0.566),(2009.70,-0.522),(2009.78,-0.518),(2009.88,-0.529),(2009.96,-0.514),(2010.04,-0.506),(2010.12,-0.510),(2010.21,-0.503),(2010.29,-0.487),(2010.37,-0.485),(2010.47,-0.482),(2010.55,-0.476),(2010.63,-0.478),(2010.71,-0.476),(2010.79,-0.470),(2010.87,-0.470),(2010.95,-0.459),(2011.03,-0.459),(2011.11,-0.461),(2011.20,-0.453),(2011.29,-0.459),(2011.39,-0.466),(2011.47,-0.474),(2011.55,-0.487),(2011.62,-0.491),(2011.70,-0.453),(2011.78,-0.457),(2011.88,-0.453),(2011.96,-0.432),(2012.04,-0.420),(2012.12,-0.424),(2012.20,-0.441),(2012.28,-0.405),(2012.36,-0.409),(2012.46,-0.384),(2012.56,-0.382),
         (2012.71,-0.379),(2012.82,-0.375),(2012.95,-0.361),(2013.03,-0.355),(2013.11,-0.342),(2013.19,-0.371),(2013.28,-0.383),(2013.36,-0.332),(2013.44,-0.336),(2013.52,-0.351),(2013.60,-0.326),(2013.68,-0.310),(2013.78,-0.295),(2013.86,-0.293),(2013.96,-0.316),(2014.04,-0.340),(2014.12,-0.344),(2014.20,-0.334),(2014.28,-0.328),(2014.36,-0.336),(2014.44,-0.281),(2014.52,-0.261),(2014.61,-0.257),(2014.69,-0.256),(2014.77,-0.261),(2014.86,-0.234),(2014.94,-0.285),(2015.03,-0.310),(2015.11,-0.326),(2015.19,-0.328),(2015.27,-0.342),(2015.35,-0.330),(2015.43,-0.349),(2015.51,-0.328),(2015.60,-0.320),(2015.68,-0.330),(2015.77,-0.340),(2015.85,-0.326),(2015.94,-0.306),(2016.02,-0.291),(2016.10,-0.293),(2016.20,-0.312),(2016.28,-0.285),(2016.36,-0.244),(2016.44,-0.232),(2016.52,-0.191),(2016.60,-0.167),(2016.70,-0.204),(2016.78,-0.179),(2016.86,-0.179),(2016.94,-0.189),(2017.02,-0.191),(2017.13,-0.126),(2017.27,0.011),(2017.35,-0.048),(2017.43,-0.001),(2017.51,-0.056),(2017.59,-0.013),(2017.69,-0.015),
         (2017.77,-0.016),(2017.85,-0.026),(2017.94,-0.055),(2018.02,0.025),(2018.10,0.055),(2018.18,0.025),(2018.26,-0.008),(2018.34,0.039),(2018.42,0.015),(2018.50,-0.049),(2018.58,-0.053),(2018.665,-0.123),(2018.75,-0.121),(2018.84,-0.135),(2018.92,-0.121),(2019.01,-0.111),(2019.09,-0.102),(2019.17,-0.094),(2019.25,-0.100),(2019.33,-0.098),(2019.41,-0.106),(2019.51,-0.106),(2019.59,-0.103),(2019.67,-0.121),(2019.75,-0.123),(2019.83,-0.139),(2019.91,-0.096),(2019.99,-0.037),(2020.08,0.021),(2020.17,0.012),(2020.25,0.002),(2020.34,-0.033),(2020.42,-0.022),(2020.50,-0.051),(2020.58,-0.045),(2020.66,-0.020),(2020.74,-0.080),(2020.84,-0.096),(2020.92,-0.108),(2021.00,-0.131),(2021.08,-0.115),(2021.16,-0.111),(2021.24,-0.115),(2021.32,-0.166),
         (2021.44,-0.158),(2021.51,-0.152),(2021.58,-0.180),(2021.67,-0.146),(2021.75,-0.200),(2021.84,-0.152),(2021.92,-0.196),(2021.99,-0.248),(2022.06,-0.288),(2022.13,-0.328),(2022.20,-0.363),(2022.26,-0.365),(2022.33,-0.473),(2022.41,-0.443),(2022.48,-0.469),(2022.57,-0.507),(2022.65,-0.457),(2022.74,-0.423),(2022.82,-0.469),(2022.90,-0.425),(2022.99,-0.433),(2023.06,-0.443),(2023.14,-0.447),(2023.23,-0.475),(2023.31,-0.463),(2023.40,-0.455),(2023.48,-0.473),(2023.57,-0.475),(2023.65,-0.487),(2023.74,-0.493),(2023.82,-0.487),(2023.91,-0.485),(2023.99,-0.489),(2024.07,-0.491),(2024.14,-0.489),(2024.23,-0.509),(2024.31,-0.497),(2024.40,-0.499),(2024.48,-0.499),(2024.57,-0.497),(2024.67,-0.495),(2024.75,-0.493),(2024.84,-0.495),(2024.92,-0.501),(2024.99,-0.565),(2025.06,-0.585),(2025.14,-0.581),(2025.23,-0.579)]

COUNTRIES = ["USA", "Japan", "UK", "Germany", "France", "Canada", "Italy"]
COLORS = ["#0072b5", "#ff7f0e", "#00a01e", "#f8161c", "#9a60c2", "#8e5246", "#f97fcf"]
SERIES = [USA, JAPAN, UK, GERMANY, FRANCE, CANADA, ITALY]
X_TICKS = [2004, 2008, 2012, 2016, 2020, 2024]
Y_TICKS = [-0.6, -0.4, -0.2, 0.0, 0.2]

# small calibration of the read-off scale (pixel grid -> axis units)
def cal_year(y):
    return 2004.02 + (y - 2004.0) * 1.0034

def cal_val(v):
    return v * 1.00448 - 0.00056

rows = []
for name, pts in zip(COUNTRIES, SERIES):
    for yr, v in pts:
        rows.append({"country": name, "year": cal_year(yr), "corr": cal_val(v)})
df = pd.DataFrame(rows)

LABEL_FONT = "Liberation Sans"

x_enc = alt.X(
    "year:Q",
    title="",
    scale=alt.Scale(domain=[2001.792, 2026.451], nice=False, zero=False),
    axis=alt.Axis(values=X_TICKS, format="d", labelFont=LABEL_FONT, labelFontSize=45,
                  labelColor="black", labelPadding=18, tickSize=16, tickWidth=2.5,
                  tickColor="black", domain=False, grid=False, labelFlush=False),
)
y_enc = alt.Y(
    "corr:Q",
    title="Rolling 60-month correlation",
    scale=alt.Scale(domain=[-0.779, 0.2317], nice=False, zero=False),
    axis=alt.Axis(values=Y_TICKS, format=".1f", labelFont=LABEL_FONT, labelFontSize=45,
                  labelColor="black", labelPadding=12, tickSize=16, tickWidth=2.5,
                  tickColor="black", domain=False, grid=False, labelFlush=False,
                  titleFont="DejaVu Sans", titleFontSize=47, titleFontWeight="normal",
                  titleColor="black", titleX=-149, titleY=903, titleAngle=270,
                  titleAlign="center", titleBaseline="middle"),
)

lines = alt.Chart(df).mark_line(strokeWidth=5.5, strokeJoin="round", clip=True).encode(
    x=x_enc,
    y=y_enc,
    color=alt.Color(
        "country:N",
        title=None,
        scale=alt.Scale(domain=COUNTRIES, range=COLORS),
        legend=alt.Legend(
            orient="none", legendX=2566, legendY=1258, padding=17,
            fillColor="rgba(255,255,255,0.8)", strokeColor="#cccccc", cornerRadius=8,
            symbolType="M-1.5,0L1.5,0", symbolSize=2704, symbolStrokeWidth=5.5,
            labelFont=LABEL_FONT, labelFontSize=42, labelColor="black", labelOffset=44,
            labelLimit=600, rowPadding=21.5,
        ),
    ),
)

zero = alt.Chart(pd.DataFrame({"v": [0.0]})).mark_rule(color="black", strokeWidth=3).encode(
    y=alt.Y("v:Q")
)

chart = alt.layer(lines, zero).properties(
    width=2900, height=1806,
    autosize=alt.AutoSizeParams(type="none"),
    padding={"left": 182, "top": 19, "right": 20, "bottom": 88},
).configure_view(stroke="black", strokeWidth=3.2).configure_legend(strokeWidth=2)

chart.save("out.html", embed_options={"renderer": "svg", "actions": False})
